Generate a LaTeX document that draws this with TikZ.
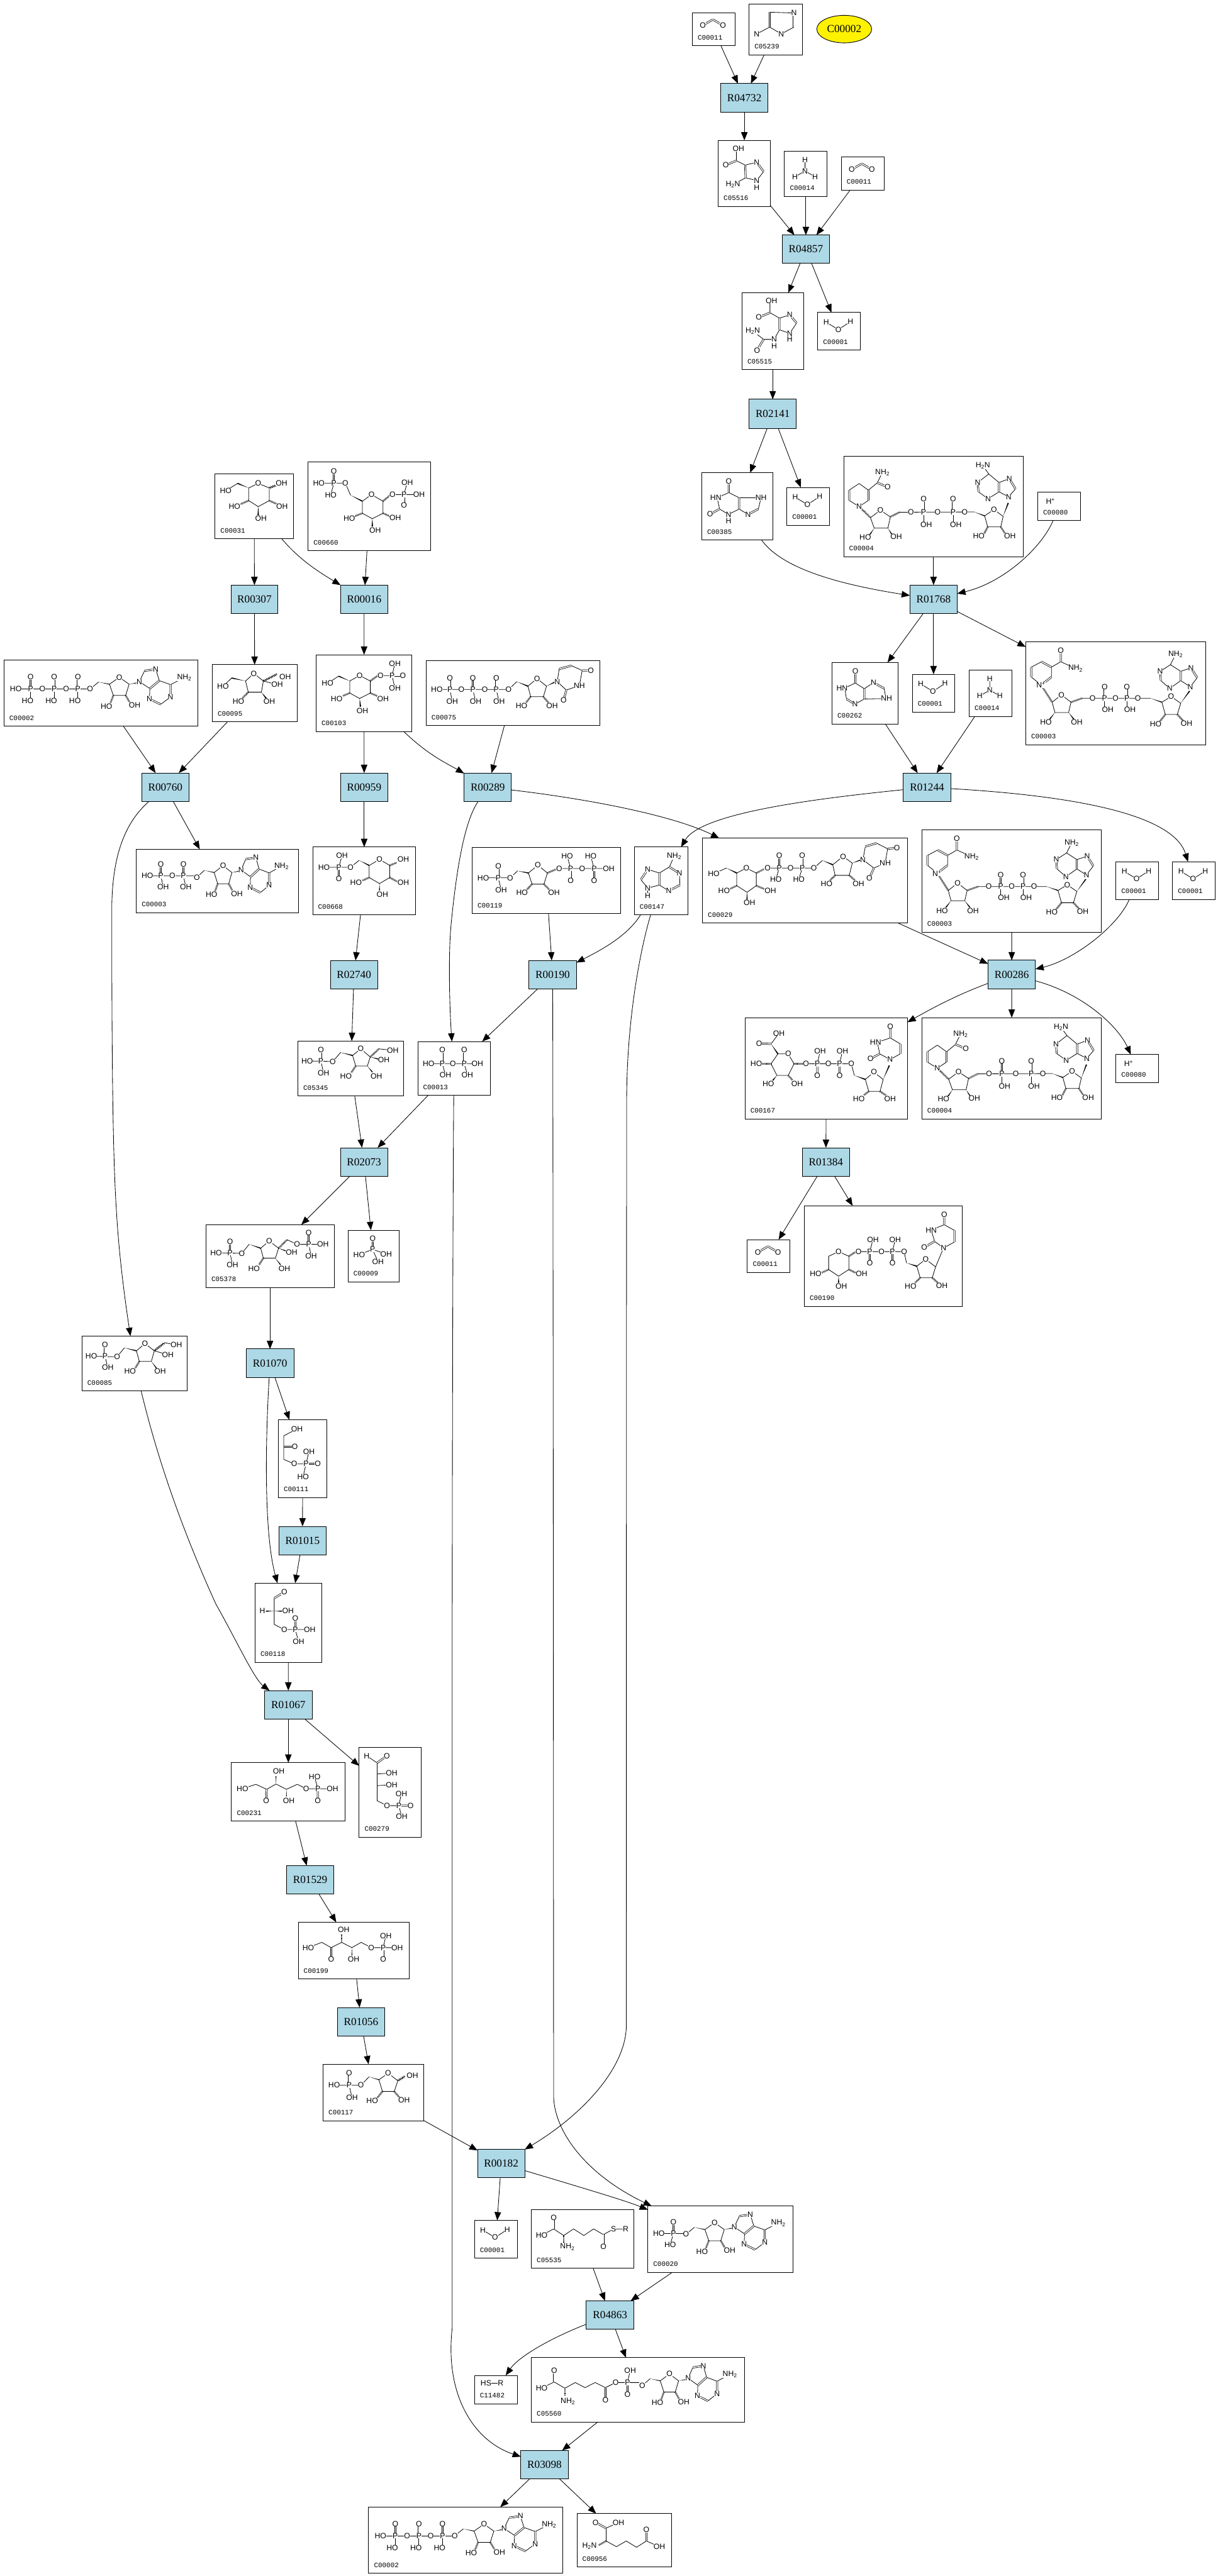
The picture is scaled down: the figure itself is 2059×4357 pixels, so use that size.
\documentclass[tikz,border=0pt]{standalone}
\usepackage{fontspec}
\setmainfont{Liberation Sans}
\newfontfamily\rfont{Liberation Serif}
\newfontfamily\lfont{Liberation Mono}
\usetikzlibrary{arrows.meta,calc,shapes.geometric,decorations.pathmorphing}
\newcount\atomctr
\tikzset{
 cmp/.style={draw=black,fill=white,line width=1pt,rectangle,inner sep=0pt,outer sep=0pt},
 rxn/.style={draw=black,fill=rbg,line width=1pt,rectangle,inner sep=0pt,outer sep=0pt,font=\rfont\fontsize{18.3}{18.3}\selectfont},
 lbl/.style={inner sep=0pt,font=\lfont\fontsize{11.6}{11.6}\selectfont},
 atm/.style={/utils/exec={\global\advance\atomctr by 1},name=atom\the\atomctr,fill=white,inner sep=0pt,font=\fontsize{13}{13}\selectfont},
 bd/.style={line width=.85pt,line cap=round,line join=round},
 dbd/.style={double,double distance=1.6pt,line width=.8pt},
 hs/.style={line width=3pt,dash pattern=on .8pt off 1.1pt},
 wv/.style={line width=.8pt,decorate,decoration={zigzag,amplitude=1.5pt,segment length=3pt}},
 edge/.style={line width=.9pt,-{Triangle[length=14pt,width=11pt]}}
}
\definecolor{rbg}{HTML}{ADD8E6}
\newcommand\NHt{NH\textsubscript{2}}
\newcommand\HtN{H\textsubscript{2}N}
\newcommand\AT[1]{\foreach \vA/\vB/\vC in {#1}{\node[atm] at (\vA,\vB) {\vC};}}
\newcommand\pL[1]{\draw[bd] #1;}
\newcommand\dL[1]{\draw[dbd] #1;}
\newcommand\wD[4]{\fill (#1,#2) -- ($(#3,#4)!1.9pt!90:(#1,#2)$) -- ($(#3,#4)!1.9pt!-90:(#1,#2)$) -- cycle;}
\newcommand\hS[4]{\draw[hs] (#1,#2) -- (#3,#4);}
\newcommand\wV[4]{\draw[wv] (#1,#2) -- (#3,#4);}
\newcommand\mol[6]{\begin{scope}[shift={(#1.north west)},xscale={1/#2},yscale={1/#3},shift={(-#4,-#5)}]#6\end{scope}}
\newcommand\cbox[6]{\node[cmp,minimum width={(#4-#2)*1pt},minimum height={(#5-#3)*1pt}] (#1) at ({(#2+#4)/2},{(#3+#5)/2}) {};
 \node[lbl,anchor=west] (#1l) at ({#2+9},{#5-14}) {#6};}
\newcommand\rbox[5]{\node[rxn,minimum width={(#4-#2)*1pt},minimum height={(#5-#3)*1pt}] (#1) at ({(#2+#4)/2},{(#3+#5)/2}) {#1};}
\newcommand\eD[2]{\draw[edge] (#1) -- (#2);}
% ---- molecules, written in the coordinates of a crop of the picture
\newcommand\mWater{\pL{(665,1187)--(711,1214)--(757,1185)}\AT{665/1187/H,711/1214/O,757/1185/H}}
\newcommand\mCO{\dL{(198,93)--(236,72) (236,72)--(274,93)}\AT{198/93/O,274/93/O}}
\newcommand\mNH{\pL{(585,588)--(585,630)--(547,651) (585,630)--(623,651)}\AT{585/630/N,585/588/H,547/651/H,623/651/H}}
\newcommand\mHp{\AT{1080/308/H\textsuperscript{+}}}
\newcommand\mAIR{\pL{(451,45)--(543,48) (543,100)--(495,125)--(451,100)--(402,125)}\dL{(543,48)--(543,100) (451,100)--(451,45)}\AT{543/48/N,495/125/N,402/125/N}}
\newcommand\mAIRc{\pL{(325,592)--(325,548) (325,592)--(358,608)--(402,598) (428,632)--(402,665)--(360,655)--(312,680)}\dL{(325,592)--(285,608) (358,608)--(360,655) (402,598)--(428,632)}\AT{333/548/OH,285/608/O,402/598/N,402/665/N,402/690/H,312/680/\HtN}}
\newcommand\mSAIC{\pL{(452,1152)--(452,1107) (452,1152)--(488,1172)--(527,1160) (553,1190)--(527,1228)--(488,1215)--(468,1250)--(428,1250)--(387,1220)}\dL{(452,1152)--(410,1169) (488,1172)--(488,1215) (527,1160)--(553,1190) (428,1250)--(403,1290)}\AT{458/1107/OH,410/1169/O,527/1160/N,527/1228/N,527/1250/H,468/1250/N,468/1275/H,403/1290/O,387/1220/\HtN}}
\newcommand\mXan{\pL{(142,273)--(108,294)--(115,340)--(141,362)--(172,340)--(172,294)--(142,273) (172,294)--(236,294) (228,340)--(198,362)--(172,340) (236,294)--(228,340)}\dL{(142,273)--(142,227) (115,340)--(87,361) (172,340)--(172,294) (228,340)--(198,362)}\AT{142/227/O,104/294/HN,87/361/O,141/362/N,141/388/H,198/362/N,236/294/NH}}
\newcommand\mHyp{\pL{(511,1050)--(480,1070)--(485,1115)--(510,1136)--(537,1115)--(537,1073)--(511,1050) (537,1073)--(564,1048)--(595,1072)--(600,1113)--(537,1115)}\dL{(511,1050)--(511,1002) (485,1115)--(510,1136) (537,1115)--(537,1073) (564,1048)--(595,1072)}\AT{511/1002/O,472/1070/HN,510/1136/N,564/1048/N,602/1113/NH}}
\newcommand\mNADH{\pL{(493,263)--(522,236)--(549,263)--(549,305)--(522,330)--(493,305)--cycle (549,263)--(575,233)--(590,190)}
 \dL{(493,263)--(493,305) (549,263)--(549,305) (575,233)--(605,250)}
 \hS{522}{330}{555}{375}
 \pL{(555,375)--(584,345)--(613,372)--(606,418)--(566,418)--cycle (640,353)--(858,352)}
 \hS{613}{372}{640}{353}\wD{566}{418}{553}{445}\wD{606}{418}{618}{445}
 \pL{(710,353)--(710,405) (796,353)--(796,405)}\dL{(710,353)--(710,300) (796,353)--(796,300)}
 \wD{858}{352}{888}{368}
 \pL{(888,368)--(915,342)--(942,370)--(935,413)--(897,413)--cycle}
 \hS{897}{413}{885}{445}\hS{935}{413}{950}{445}\wD{942}{370}{957}{315}
 \pL{(883,163)--(900,197)--(868,232)--(870,270)--(898,298)--(930,270)--(930,232)--(900,197) (930,232)--(960,216)--(978,258)--(958,290)--(930,270)}
 \dL{(930,270)--(930,232) (960,216)--(978,258) (868,232)--(870,270)}
 \AT{590/190/\NHt,605/250/O,522/330/N,883/163/\HtN,868/232/N,898/298/N,960/216/N,958/290/N,584/345/O,673/353/O,710/353/P,710/300/O,718/403/OH,751/353/O,796/353/P,796/300/O,804/405/OH,830/353/O,915/342/O,540/455/HO,630/452/OH,871/450/HO,962/450/OH}}
\newcommand\mNAD{\pL{(1024,985)--(1054,963)--(1083,985)--(1083,1025)--(1053,1058)--(1024,1025)--cycle (1083,985)--(1110,963)--(1153,990)}
 \dL{(1024,985)--(1024,1025) (1054,963)--(1083,985) (1083,1025)--(1053,1058) (1110,963)--(1110,917)}
 \hS{1053}{1058}{1085}{1128}
 \pL{(1085,1128)--(1112,1098)--(1140,1128)--(1133,1170)--(1093,1170)--cycle (1172,1112)--(1372,1112)}
 \wD{1093}{1170}{1078}{1197}\wD{1133}{1170}{1148}{1197}\hS{1140}{1128}{1172}{1112}
 \pL{(1238,1112)--(1238,1155) (1303,1112)--(1303,1155)}\dL{(1238,1112)--(1238,1065) (1303,1112)--(1303,1065)}
 \wD{1372}{1112}{1405}{1128}
 \pL{(1405,1128)--(1432,1105)--(1460,1132)--(1450,1178)--(1415,1178)--cycle}
 \hS{1415}{1178}{1400}{1205}\hS{1450}{1178}{1468}{1205}\wD{1460}{1132}{1486}{1082}
 \pL{(1445,933)--(1430,975)--(1400,1002)--(1402,1040)--(1428,1072)--(1460,1040)--(1460,1002)--(1430,975) (1460,1002)--(1490,988)--(1508,1028)--(1488,1065)--(1460,1040)}
 \dL{(1460,1040)--(1460,1002) (1490,988)--(1508,1028) (1400,1002)--(1402,1040)}
 \AT{1052/1058/N\textsuperscript{+},1110/917/O,1153/990/\NHt,1112/1098/O,1067/1210/HO,1157/1210/OH,1203/1112/O,1238/1112/P,1270/1112/O,1303/1112/P,1335/1112/O,1238/1065/O,1303/1065/O,1247/1158/OH,1312/1158/OH,1432/1105/O,1387/1216/HO,1477/1214/OH,1488/1065/N,1445/933/\NHt,1400/1002/N,1428/1072/N,1490/988/N}}
\newcommand\mAR{\pL{(507,207)--(550,172)}\wD{550}{172}{605}{183}
 \pL{(605,183)--(655,148)--(705,183)--(687,240)--(625,240)--cycle}
 \wD{705}{183}{745}{176}\hS{625}{240}{610}{278}\hS{687}{240}{708}{275}
 \pL{(757,170)--(783,115)--(840,107)--(858,165)--(810,205)--(757,170) (810,205)--(808,258)--(865,285)--(915,248)--(915,185)--(858,165) (915,185)--(985,150)}
 \dL{(783,115)--(840,107) (858,165)--(810,205) (808,258)--(865,285) (915,248)--(915,185)}
 \AT{507/207/O,655/148/O,757/170/N,840/107/N,808/258/N,915/248/N,985/150/\NHt,590/295/HO,733/290/OH}}
\newcommand\AR[6]{\begin{scope}[shift={(#1.north west)},shift={(#2,#3)},xscale={#4/3},yscale={#5/3},shift={(-655,-148)}]#6\end{scope}}
\newcommand\mATP{\pL{(130,207)--(507,207) (205,207)--(205,255) (325,207)--(325,255) (445,207)--(445,255)}\dL{(205,207)--(205,146) (325,207)--(325,146) (445,207)--(445,146)}\mAR
 \AT{130/207/HO,205/207/P,265/207/O,325/207/P,385/207/O,445/207/P,205/146/O,325/146/O,445/146/O,190/267/HO,310/267/HO,430/267/HO}}
\newcommand\mGlc{\pL{(628,128)--(652,113)--(680,128)--(680,170)--(652,190)--(628,170)--cycle (600,113)--(570,137)}
 \wD{628}{128}{600}{113}\wV{680}{128}{700}{118}\hS{628}{170}{607}{182}\hS{680}{170}{700}{182}\wD{652}{190}{652}{218}
 \AT{570/137/HO,711/113/OH,592/189/HO,712/190/OH,659/229/OH,652/113/O}}
\newcommand\mGSP{\pL{(805,112)--(872,112)--(885,152) (843,112)--(835,151) (991,150)--(1058,150) (1020,150)--(1028,110)}\dL{(843,112)--(843,73) (1020,150)--(1020,186)}
 \wD{885}{152}{915}{172}\pL{(915,172)--(938,150)--(967,172)--(967,212)--(940,230)--(915,212)--cycle}
 \hS{967}{172}{985}{152}\hS{915}{212}{895}{222}\hS{967}{212}{985}{222}\wD{940}{230}{940}{256}
 \AT{843/73/O,843/112/P,805/112/HO,872/112/O,835/151/HO,938/150/O,991/150/O,1020/150/P,1058/150/OH,1028/110/OH,1020/186/O,882/228/HO,998/226/OH,947/268/OH}}
\newcommand\mFru{\pL{(620,768)--(641,743)--(665,768)--(660,805)--(627,805)--cycle (585,758)--(563,786) (665,768)--(700,780)}
 \wD{620}{768}{585}{758}\wV{665}{768}{700}{745}\hS{627}{805}{612}{825}\wD{660}{805}{672}{825}
 \AT{641/743/O,563/786/HO,720/755/OH,700/780/OH,602/835/HO,680/835/OH}}
\newcommand\mGoneP{\pL{(855,752)--(827,776) (883,768)--(908,750)--(935,768)--(935,808)--(908,826)--(883,808)--cycle (961,750)--(990,750) (997,710)--(990,750)--(997,792)}\dL{(990,750)--(1017,750)}
 \wD{883}{768}{855}{752}\hS{935}{768}{952}{752}\hS{883}{808}{865}{818}\hS{935}{808}{953}{818}\wD{908}{826}{910}{853}
 \AT{827/776/HO,908/750/O,961/750/O,990/750/P,1017/750/O,997/710/OH,997/792/OH,850/827/HO,967/827/OH,915/866/OH}}
\newcommand\mUTP{\pL{(1103,796)--(1284,796)--(1305,770) (1136,796)--(1142,836) (1194,796)--(1201,836) (1253,796)--(1260,836)}\dL{(1136,796)--(1136,758) (1194,796)--(1194,758) (1253,796)--(1253,758)}
 \wD{1305}{770}{1333}{785}\pL{(1333,785)--(1356,760)--(1380,785)--(1372,820)--(1340,820)--cycle}
 \hS{1340}{820}{1328}{840}\hS{1372}{820}{1385}{840}\wD{1380}{785}{1403}{770}
 \pL{(1407,770)--(1412,728)--(1443,717)--(1470,733)--(1463,783)--(1430,798)--(1407,770)}\dL{(1412,728)--(1443,717) (1470,733)--(1492,733) (1430,798)--(1423,832)}
 \AT{1103/796/HO,1136/796/P,1165/796/O,1194/796/P,1224/796/O,1253/796/P,1284/796/O,1136/758/O,1194/758/O,1253/758/O,1142/836/OH,1201/836/OH,1260/836/OH,1356/760/O,1317/850/HO,1394/850/OH,1407/770/N,1492/733/O,1463/783/NH,1423/832/O}}
\newcommand\mADPp{\pL{(372,1414)--(491,1414) (406,1414)--(412,1450) (463,1414)--(469,1450)}\dL{(406,1414)--(406,1376) (463,1414)--(463,1376)}\AT{372/1414/HO,406/1414/P,435/1414/O,463/1414/P,406/1376/O,463/1376/O,412/1450/OH,469/1450/OH}}
\newcommand\mGsixP{\pL{(152,131)--(252,131)--(285,108) (208,131)--(220,92)}\dL{(208,131)--(208,169)}\wD{285}{108}{323}{125}
 \pL{(323,125)--(362,105)--(401,125)--(401,165)--(362,185)--(323,165)--cycle}
 \hS{401}{125}{428}{115}\hS{323}{165}{297}{175}\hS{401}{165}{428}{178}\wD{362}{185}{362}{208}
 \AT{220/92/OH,152/131/HO,208/131/P,252/131/O,208/169/O,362/105/O,452/105/OH,273/182/HO,452/182/OH,373/221/OH}}
\newcommand\mPRPP{\pL{(755,166)--(857,166)--(885,143) (812,166)--(823,206) (1043,135)--(1230,135) (1086,135)--(1073,94) (1175,135)--(1162,94)}\dL{(812,166)--(812,128) (1086,135)--(1086,175) (1175,135)--(1175,175)}
 \wD{885}{143}{926}{150}\pL{(926,150)--(962,124)--(998,150)--(985,187)--(940,187)--cycle}
 \hS{998}{150}{1030}{138}\hS{940}{187}{920}{205}\hS{985}{187}{1005}{205}
 \AT{812/128/O,812/166/P,755/166/HO,857/166/O,823/206/OH,962/124/O,1043/135/O,1086/135/P,1130/135/O,1175/135/P,1230/135/OH,1073/94/HO,1162/94/HO,1086/175/O,1175/175/O,902/215/HO,1023/215/OH}}
\newcommand\mAde{\pL{(1478,94)--(1460,130)--(1498,151)--(1500,190)--(1458,209)--(1422,190)--(1422,150)--(1460,130) (1422,150)--(1378,138)--(1352,172)--(1378,200)--(1422,190) (1378,200)--(1378,225)}
 \dL{(1460,130)--(1498,151) (1500,190)--(1458,209) (1422,190)--(1422,150) (1378,138)--(1352,172)}
 \AT{1478/94/\NHt,1498/151/N,1458/209/N,1378/138/N,1378/200/N,1378/225/H}}
\newcommand\mUDPG{\pL{(98,192)--(135,175) (165,190)--(193,175)--(222,190)--(222,228)--(195,248)--(165,228)--cycle (255,175)--(390,175)--(415,152) (289,175)--(279,209) (356,175)--(346,209)}\dL{(289,175)--(289,138) (356,175)--(356,138)}
 \wD{135}{175}{165}{190}\hS{222}{190}{245}{178}\hS{165}{228}{145}{238}\hS{222}{228}{245}{238}\wD{195}{248}{195}{270}
 \wD{415}{152}{445}{165}\pL{(445,165)--(475,140)--(502,160)--(493,197)--(452,197)--cycle}
 \hS{452}{197}{437}{212}\hS{493}{197}{510}{212}\wD{502}{160}{528}{150}
 \pL{(533,150)--(540,110)--(573,100)--(605,117)--(598,160)--(565,175)--cycle}\dL{(540,110)--(573,100) (605,117)--(632,114) (565,175)--(552,205)}
 \AT{98/192/HO,193/175/O,255/175/O,289/175/P,322/175/O,356/175/P,390/175/O,289/138/O,356/138/O,279/209/HO,346/209/HO,475/140/O,427/222/HO,520/222/OH,533/150/N,632/114/O,598/160/NH,552/205/O,128/244/HO,263/244/OH,202/280/OH}}
\newcommand\mUDPA{\pL{(285,735)--(315,735)--(332,765)--(315,800)--(282,800)--(265,765)--cycle (265,705)--(288,673) (367,765)--(499,765)--(508,800) (400,765)--(408,727) (465,765)--(473,727)}\dL{(265,705)--(230,704) (400,765)--(400,800) (465,765)--(465,800)}
 \wD{265}{705}{285}{735}\hS{332}{765}{357}{765}\hS{265}{765}{240}{765}\wD{282}{800}{270}{815}\hS{315}{800}{328}{815}
 \wD{508}{800}{540}{812}\pL{(540,812)--(565,790)--(592,812)--(583,848)--(550,848)--cycle}
 \hS{550}{848}{535}{860}\hS{583}{848}{600}{860}\wD{592}{812}{610}{770}
 \pL{(613,687)--(575,700)--(582,735)--(612,752)--(642,735)--(642,705)--(613,687)}\dL{(613,687)--(613,652) (582,735)--(555,750) (642,735)--(642,705)}
 \AT{288/673/OH,230/704/O,315/735/O,367/765/O,400/765/P,432/765/O,465/765/P,499/765/O,408/727/OH,473/727/OH,400/800/O,465/800/O,222/765/HO,257/825/HO,341/825/OH,565/790/O,521/870/HO,612/870/OH,612/752/N,613/652/O,570/700/HN,555/750/O}}
\newcommand\mUDPX{\pL{(433,1345)--(462,1331)--(492,1345)--(492,1385)--(462,1405)--(433,1385)--cycle (520,1331)--(653,1331)--(660,1365) (553,1331)--(562,1295) (619,1331)--(627,1295)}\dL{(553,1331)--(553,1366) (619,1331)--(619,1366)}
 \hS{492}{1345}{510}{1333}\hS{433}{1385}{412}{1395}\hS{492}{1385}{512}{1395}\wD{462}{1405}{462}{1425}
 \wD{660}{1365}{690}{1375}\pL{(690,1375)--(716,1354)--(745,1377)--(735,1410)--(700,1410)--cycle (745,1377)--(768,1320)}
 \hS{700}{1410}{685}{1425}\hS{735}{1410}{752}{1425}
 \pL{(768,1320)--(800,1302)--(800,1267)--(770,1250)--(732,1266)--(742,1300)--cycle}\dL{(800,1302)--(800,1267) (770,1250)--(770,1220) (742,1300)--(712,1318)}
 \AT{462/1331/O,520/1331/O,553/1331/P,587/1331/O,619/1331/P,653/1331/O,562/1295/OH,627/1295/OH,553/1366/O,619/1366/O,395/1398/HO,529/1398/OH,470/1436/OH,716/1354/O,672/1436/HO,763/1434/OH,768/1320/N,770/1220/O,732/1266/HN,712/1318/O}}
\newcommand\mFsixP{\pL{(88,773)--(185,775)--(215,745) (140,773)--(150,813) (360,733)--(412,738)}\dL{(140,773)--(140,737)}
 \wD{215}{745}{260}{755}\pL{(260,755)--(291,733)--(327,760)--(316,790)--(272,790)--cycle}
 \hS{327}{760}{360}{733}\wD{327}{760}{358}{767}\hS{272}{790}{255}{812}\wD{316}{790}{335}{810}
 \AT{140/737/O,140/773/P,88/773/HO,185/775/O,150/813/OH,291/733/O,412/738/OH,378/769/OH,235/824/HO,350/824/OH}}
\newcommand\mPPi{\pL{(548,782)--(733,782) (600,782)--(612,819) (683,782)--(695,819)}\dL{(600,782)--(600,737) (683,782)--(683,737)}\AT{600/737/O,600/782/P,548/782/HO,640/782/O,683/782/P,733/782/OH,683/737/O,612/819/OH,695/819/OH}}
\newcommand\mPi{\pL{(285,1415)--(336,1398)--(387,1413) (336,1398)--(356,1438)}\dL{(336,1398)--(336,1362)}\AT{336/1362/O,336/1398/P,285/1415/HO,387/1413/OH,356/1438/OH}}
\newcommand\mFBP{\pL{(640,135)--(745,137)--(775,107) (697,135)--(707,176) (930,92)--(970,107)--(1076,107) (1018,107)--(1028,146)}\dL{(697,135)--(697,99) (1018,107)--(1018,68)}
 \wD{775}{107}{822}{120}\pL{(822,120)--(857,96)--(895,120)--(882,153)--(833,153)--cycle}
 \hS{895}{120}{930}{92}\wD{895}{120}{928}{130}\hS{833}{153}{815}{175}\wD{882}{153}{903}{175}
 \AT{697/99/O,697/135/P,640/135/HO,745/137/O,707/176/OH,857/96/O,970/107/O,1018/107/P,1076/107/OH,1018/68/O,1028/146/OH,948/133/OH,795/187/HO,919/187/OH}}
\newcommand\mFsP{\pL{(131,478)--(236,480)--(266,450) (187,478)--(198,516) (430,433)--(478,441) (388,460)--(443,473)}\dL{(187,478)--(187,441)}
 \wD{266}{450}{315}{460}\pL{(315,460)--(350,436)--(388,460)--(376,495)--(327,495)--cycle}
 \wV{388}{460}{430}{433}\hS{327}{495}{310}{518}\wD{376}{495}{397}{518}
 \AT{187/441/O,187/478/P,131/478/HO,236/480/O,198/516/OH,350/436/O,478/441/OH,443/473/OH,289/528/HO,412/528/OH}}
\newcommand\mDHAP{\pL{(970,719)--(916,742)--(916,820)--(959,835)--(1007,835) (1019,794)--(1007,835)--(995,877)}\dL{(916,778)--(961,778) (1007,835)--(1055,835)}\AT{970/719/OH,961/778/O,959/835/O,1007/835/P,1055/835/O,1019/794/OH,995/877/HO}}
\newcommand\mGAP{\pL{(877,1280)--(877,1367)--(918,1384)--(1022,1384) (963,1384)--(976,1423)}\dL{(877,1280)--(918,1260) (963,1384)--(963,1347)}\wD{877}{1323}{843}{1323}\wD{877}{1323}{908}{1323}\AT{918/1260/O,829/1321/H,933/1321/OH,963/1347/O,963/1384/P,918/1384/O,1022/1384/OH,976/1423/OH}}
\newcommand\mRuP{\pL{(180,393)--(248,376)--(303,395)--(350,375)--(403,395)--(458,376)--(503,393)--(637,393) (562,393)--(546,347)}\dL{(303,395)--(300,438) (562,393)--(562,438)}\wD{350}{375}{350}{345}\wD{403}{395}{403}{422}\AT{180/393/HO,300/438/O,364/326/OH,415/438/OH,503/393/O,562/393/P,637/393/OH,546/347/HO,562/438/O}}
\newcommand\mEP{\pL{(810,268)--(863,295)--(863,438)--(913,457)--(973,457) (863,337)--(937,333) (863,381)--(937,378) (986,411)--(973,457)--(988,499)}\dL{(863,295)--(912,268) (973,457)--(1033,457)}\AT{810/268/H,912/268/O,937/333/OH,937/378/OH,913/457/O,973/457/P,1033/457/O,986/411/OH,988/499/OH}}
\newcommand\mXuP{\pL{(514,995)--(582,975)--(630,995)--(683,975)--(735,995)--(782,975)--(833,995)--(965,995) (894,995)--(907,950)}\dL{(630,995)--(630,1040) (894,995)--(894,1040)}\hS{683}{975}{683}{945}\wD{735}{995}{735}{1025}\AT{514/995/HO,630/1040/O,693/928/OH,744/1040/OH,833/995/O,894/995/P,965/995/OH,907/950/OH,894/1040/O}}
\newcommand\mRfP{\pL{(135,201)--(271,201)--(312,158) (211,201)--(226,264)}\dL{(211,201)--(211,138)}\wD{312}{158}{362}{173}\pL{(362,173)--(409,140)--(458,178)--(440,232)--(380,232)--cycle}
 \wV{458}{178}{495}{155}\hS{380}{232}{350}{270}\hS{440}{232}{470}{268}
 \AT{211/138/O,211/201/P,135/201/HO,271/201/O,226/264/OH,409/140/O,532/153/OH,328/280/HO,490/275/OH}}
\newcommand\mAMPp{\pL{(878,368)--(985,368) (937,368)--(924,408)}\dL{(937,368)--(937,328)}\AT{937/368/P,878/368/HO,937/328/O,924/408/HO}}
\newcommand\mAPs{\pL{(400,374)--(449,352)--(490,375)--(530,352)--(572,375)--(612,352)--(652,372)--(693,352)--(743,352)}\dL{(449,352)--(449,312) (652,372)--(652,413)}\hS{490}{375}{490}{400}\AT{449/312/O,400/374/HO,505/415/\NHt,652/413/O,693/352/S,743/352/R}}
\newcommand\mHSR{\pL{(173,893)--(233,893)}\AT{173/893/HS,233/893/R}}
\newcommand\mAPa{\pL{(400,910)--(451,888)--(495,910)--(537,890)--(577,908)--(618,890)--(660,908)--(702,890)--(797,890) (750,890)--(761,848)}\dL{(451,888)--(451,848) (660,908)--(660,952) (750,890)--(750,932)}\hS{495}{910}{495}{935}\AT{451/848/O,400/910/HO,507/955/\NHt,660/952/O,702/890/O,750/890/P,761/848/OH,750/932/O}}
\newcommand\mAAA{\pL{(663,1400)--(713,1380) (663,1400)--(663,1445)--(705,1465)--(745,1445)--(787,1467)--(827,1445)--(880,1465)}\dL{(663,1400)--(620,1380) (827,1445)--(827,1405)}\hS{663}{1445}{632}{1460}\AT{620/1380/O,713/1380/OH,595/1462/\HtN,827/1405/O,880/1465/OH}}
\begin{document}
\begin{tikzpicture}[x=1pt,y=-1pt]
\fill[white] (0,0) rectangle (2059,4357);
\useasboundingbox (0,0) rectangle (2059,4357);
% reactions
\rbox{R04732}{1218.3}{141.4}{1298.7}{189.6}
\rbox{R04857}{1322.3}{397.6}{1402.7}{445.4}
\rbox{R02141}{1266.5}{675.4}{1346.5}{724.6}
\rbox{R01768}{1538.4}{989.5}{1618.4}{1037.6}
\rbox{R01244}{1527.4}{1307.5}{1607.4}{1355.6}
\rbox{R00307}{390.4}{989.6}{470}{1037.6}
\rbox{R00016}{575.9}{989.6}{655.6}{1037.6}
\rbox{R00760}{239.7}{1307.4}{319.4}{1355.4}
\rbox{R00959}{575.9}{1307.4}{655.6}{1355.4}
\rbox{R00289}{784.8}{1307.4}{864.5}{1355.4}
\rbox{R00286}{1670.6}{1624.2}{1750.6}{1672.5}
\rbox{R01384}{1356.4}{1941.3}{1436.4}{1989.5}
\rbox{R02740}{558.6}{1624.5}{638.5}{1672.4}
\rbox{R00190}{894.3}{1624.5}{974.6}{1672.4}
\rbox{R02073}{575.5}{1941.3}{655.4}{1989.3}
\rbox{R01070}{416.3}{2281.6}{496.8}{2329.6}
\rbox{R01015}{471.5}{2581.6}{551.5}{2629.6}
\rbox{R01067}{447.3}{2859.4}{527.7}{2907.6}
\rbox{R01529}{484.3}{3155.4}{564.7}{3203.6}
\rbox{R01056}{570.3}{3395.5}{650.7}{3443.8}
\rbox{R00182}{807.6}{3635.2}{887.2}{3683.5}
\rbox{R04863}{991.3}{3891.6}{1071.7}{3939.4}
\rbox{R03098}{880.6}{4144.7}{960.6}{4192.5}
% compounds
\node[draw=black,fill=yellow,ellipse,line width=1pt,inner sep=0pt,outer sep=0pt,minimum width=92.7pt,minimum height=46.5pt,font=\rfont\fontsize{18.3}{18.3}\selectfont] (Cseed) at (1427.4,49.2) {C00002};
\cbox{Ca}{1170.5}{21.6}{1242.4}{77.6}{C00011}
\cbox{Cb}{1266.5}{7.3}{1356.7}{92.7}{C05239}
\cbox{Cc}{1214.3}{237.4}{1302.7}{349.4}{C05516}
\cbox{Cd}{1326.3}{255.3}{1398.7}{332.4}{C00014}
\cbox{Ce}{1422.3}{265.4}{1494.6}{321.4}{C00011}
\cbox{Cf}{1254.5}{495.4}{1358.5}{625.3}{C05515}
\cbox{Cg}{1382.6}{528.5}{1454.5}{592.2}{C00001}
\cbox{Ch}{1186.5}{799.6}{1306.5}{913.6}{C00385}
\cbox{Ci}{1330.3}{824.5}{1402.2}{888.7}{C00001}
\cbox{Cj}{1426.5}{771.4}{1730.3}{941.4}{C00004}
\cbox{Ck}{1754.6}{832.4}{1826.5}{880.4}{C00080}
\cbox{Cl}{1406.8}{1120.5}{1518.7}{1224.6}{C00262}
\cbox{Cm}{1542.5}{1140.4}{1614.3}{1204.7}{C00001}
\cbox{Cn}{1638.7}{1133.3}{1710.6}{1211.7}{C00014}
\cbox{Co}{1734.3}{1085.3}{2038.7}{1259.4}{C00003}
\cbox{Cp}{363.6}{801.3}{496.2}{911.5}{C00031}
\cbox{Cq}{521}{781.4}{728.6}{931.4}{C00660}
\cbox{Cr}{6.7}{1116.6}{334.2}{1228.4}{C00002}
\cbox{Cs}{358.9}{1124.3}{502.2}{1220.7}{C00095}
\cbox{Ct}{534.4}{1107.4}{696.4}{1237.6}{C00103}
\cbox{Cu}{720.5}{1117.7}{1014.5}{1227.3}{C00075}
\cbox{Cv}{230.4}{1436.5}{504.2}{1543.7}{C00003}
\cbox{Cw}{528.7}{1432.7}{702.8}{1547.4}{C00668}
\cbox{Cx}{798.3}{1433.7}{1048.8}{1545.4}{C00119}
\cbox{Cy}{1072.4}{1432.7}{1163.5}{1547.4}{C00147}
\cbox{Cz}{1187.7}{1417.7}{1534.3}{1561.4}{C00029}
\cbox{Daa}{1558.7}{1403.7}{1862.5}{1576.5}{C00003}
\cbox{Dab}{1886.8}{1457.5}{1958.7}{1521.5}{C00001}
\cbox{Dac}{1982.5}{1457.5}{2054.3}{1521.5}{C00001}
\cbox{Dad}{1259.6}{1721.3}{1534.3}{1892.4}{C00167}
\cbox{Dae}{1558.7}{1721.3}{1862.5}{1892.4}{C00004}
\cbox{Daf}{1886.8}{1783.6}{1958.7}{1831.3}{C00080}
\cbox{Dag}{1263.6}{2096.7}{1335.5}{2152.3}{C00011}
\cbox{Dah}{1359.9}{2039.5}{1626.5}{2209.5}{C00190}
\cbox{Dai}{503.7}{1760.7}{682.7}{1853.6}{C05345}
\cbox{Daj}{706.3}{1761.7}{828.7}{1852.6}{C00013}
\cbox{Dak}{588.5}{2080.6}{674.6}{2168.4}{C00009}
\cbox{Dal}{348.3}{2071.4}{564.8}{2177.6}{C05378}
\cbox{Dam}{138.6}{2259.7}{316.4}{2352.6}{C00085}
\cbox{Dan}{470.6}{2401.5}{552.7}{2532.7}{C00111}
\cbox{Dao}{431.3}{2677.6}{543.6}{2811.7}{C00118}
\cbox{Dap}{391.3}{2981.3}{583.7}{3080.4}{C00231}
\cbox{Daq}{607.3}{2955.4}{711.7}{3107.6}{C00279}
\cbox{Dar}{504.3}{3251.3}{691.7}{3347.3}{C00199}
\cbox{Das}{546.3}{3491.3}{716.7}{3587.3}{C00117}
\cbox{Dat}{802.2}{3755.5}{874.8}{3819.7}{C00001}
\cbox{Dau}{898.4}{3737.6}{1071.7}{3836.6}{C05535}
\cbox{Dav}{1095.4}{3731.3}{1340.8}{3843.4}{C00020}
\cbox{Daw}{802.2}{4017.7}{874.8}{4065.5}{C11482}
\cbox{Dax}{898.4}{3987.7}{1258.7}{4096.4}{C05560}
\cbox{Day}{623.3}{4240.3}{951.7}{4352.3}{C00002}
\cbox{Daz}{975.5}{4251.4}{1135.6}{4341.7}{C00956}
% structures
\mol{Ca}{2.24}{2.178}{158}{47}{\mCO}
\mol{Ce}{2.24}{2.178}{158}{47}{\mCO}
\mol{Dag}{2.24}{2.178}{158}{47}{\mCO}
\mol{Cb}{2.24}{2.178}{373}{16}{\mAIR}
\mol{Cc}{2.24}{2.178}{256}{517}{\mAIRc}
\mol{Cd}{2.24}{2.178}{507}{556}{\mNH}
\mol{Cn}{2.24}{2.178}{507}{556}{\mNH}
\mol{Cf}{2.24}{2.178}{346}{1079}{\mSAIC}
\mol{Cg}{2.24}{2.178}{633}{1151}{\mWater}
\mol{Ci}{2.24}{2.178}{633}{1151}{\mWater}
\mol{Cm}{2.24}{2.178}{633}{1151}{\mWater}
\mol{Dab}{2.24}{2.178}{633}{1151}{\mWater}
\mol{Dac}{2.24}{2.178}{633}{1151}{\mWater}
\mol{Dat}{2.24}{2.178}{633}{1151}{\mWater}
\mol{Ch}{1.725}{2.412}{63}{192}{\mXan}
\mol{Cj}{1.725}{2.412}{477}{124}{\mNADH}
\mol{Dae}{1.725}{2.412}{477}{124}{\mNADH}
\mol{Ck}{1.725}{2.412}{1043}{271}{\mHp}
\mol{Daf}{1.725}{2.412}{1043}{271}{\mHp}
\mol{Cl}{1.725}{2.412}{443}{966}{\mHyp}
\mol{Co}{1.725}{2.412}{1008}{881}{\mNAD}
\mol{Daa}{1.725}{2.412}{1008}{881}{\mNAD}
\mol{Cp}{1.4933}{1.96}{543}{81}{\mGlc}
\mol{Cq}{1.4933}{1.96}{778}{42}{\mGSP}
\mol{Cr}{3}{3}{70}{61}{\mATP}
\mol{Day}{3}{3}{70}{61}{\mATP}
\mol{Cs}{1.4933}{1.96}{536}{714}{\mFru}
\mol{Ct}{1.4933}{1.96}{798}{681}{\mGoneP}
\mol{Cu}{1.4933}{1.96}{1076}{701}{\mUTP}
\mol{Cv}{1.4933}{1.96}{344}{1326}{\mADPp}
\AR{Cv}{146.7}{27.6}{.9}{1}{\mAR}
\mol{Cw}{2.24}{1.96}{109}{64}{\mGsixP}
\mol{Cx}{2.24}{1.96}{713}{66}{\mPRPP}
\mol{Cy}{2.24}{1.96}{1327}{64}{\mAde}
\mol{Cz}{1.725}{1.782}{65}{85}{\mUDPG}
\mol{Dad}{1.725}{1.782}{189}{626}{\mUDPA}
\mol{Dah}{1.725}{1.782}{362}{1193}{\mUDPX}
\mol{Dai}{2.24}{1.96}{53}{707}{\mFsixP}
\mol{Daj}{2.24}{1.96}{507}{709}{\mPPi}
\mol{Dak}{2.24}{1.96}{243}{1334}{\mPi}
\mol{Dal}{2.412}{1.96}{599}{42}{\mFBP}
\mol{Dam}{2.412}{1.96}{93}{411}{\mFsP}
\mol{Dan}{2.412}{1.96}{894}{689}{\mDHAP}
\mol{Dao}{2.412}{1.96}{799}{1230}{\mGAP}
\mol{Dap}{3}{2.24}{124}{294}{\mRuP}
\mol{Daq}{3}{2.24}{772}{236}{\mEP}
\mol{Dar}{3}{2.24}{463}{899}{\mXuP}
\mol{Das}{3}{3}{79}{94}{\mRfP}
\mol{Dav}{2.412}{2.071}{833}{272}{\mAMPp}
\AR{Dav}{112.8}{28}{.98}{1}{\mAR}
\mol{Dau}{2.412}{2.071}{358}{285}{\mAPs}
\mol{Daw}{2.412}{2.071}{126}{865}{\mHSR}
\mol{Dax}{2.412}{2.071}{358}{803}{\mAPa}
\AR{Dax}{233.4}{27.5}{.93}{1}{\mAR}
\mol{Daz}{2.412}{2.071}{544}{1349}{\mAAA}
% connectors
\eD{Ca}{R04732}\eD{Cb}{R04732}\eD{R04732}{Cc}\eD{Cc}{R04857}\eD{Cd}{R04857}\eD{Ce}{R04857}
\eD{R04857}{Cf}\eD{R04857}{Cg}\eD{Cf}{R02141}\eD{R02141}{Ch}\eD{R02141}{Ci}
\draw[edge] (Ch) .. controls (1325,965) and (1430,990) .. (R01768);
\eD{Cj}{R01768}
\draw[edge] (Ck) .. controls (1762,925) and (1698,985) .. (R01768);
\eD{R01768}{Cl}\eD{R01768}{Cm}\eD{R01768}{Co}\eD{Cl}{R01244}\eD{Cn}{R01244}
\draw[edge] (R01244) .. controls (1387,1350) and (1186,1374) .. (Cy);
\draw[edge] (R01244) .. controls (1800,1345) and (1983,1374) .. (Dac);
\eD{Cp}{R00307}
\draw[edge] (Cp) .. controls (505,945) and (535,965) .. (R00016);
\eD{Cq}{R00016}\eD{R00307}{Cs}\eD{R00016}{Ct}\eD{Cr}{R00760}\eD{Cs}{R00760}\eD{Ct}{R00959}
\draw[edge] (Ct) .. controls (725,1278) and (757,1292) .. (R00289);
\eD{Cu}{R00289}\eD{R00760}{Cv}
\draw[edge] (R00760) .. controls (210,1392) and (189,1450) .. (189,1540) .. controls (189,1750) and (190,1950) .. (197,2050) .. controls (201,2120) and (210,2190) .. (Dam);
\eD{R00959}{Cw}
\draw[edge] (R00289) .. controls (1000,1352) and (1140,1380) .. (Cz);
\draw[edge] (R00289) .. controls (785,1390) and (772,1470) .. (763,1560) .. controls (757,1620) and (761,1720) .. (Daj);
\eD{Cw}{R02740}\eD{R02740}{Dai}\eD{Dai}{R02073}\eD{Daj}{R02073}\eD{Cx}{R00190}
\draw[edge] (Cy) .. controls (1060,1585) and (1010,1610) .. (R00190);
\eD{R00190}{Daj}
\draw[edge] (R00190) .. controls (935,1900) and (936,3200) .. (936,3544) .. controls (936,3600) and (985,3675) .. (Dav);
\draw[edge] (Cy) .. controls (1090,1580) and (1060,1700) .. (1059.5,1860) .. controls (1059,2500) and (1059,3000) .. (1059,3425) .. controls (1059,3500) and (980,3580) .. (R00182);
\draw[edge] (Daj) .. controls (766,2000) and (764.5,2400) .. (764.5,3000) .. controls (764.5,3400) and (764.5,3700) .. (764.5,3938) .. controls (752,4050) and (800,4128) .. (R03098);
\eD{Cz}{R00286}\eD{Daa}{R00286}
\draw[edge] (Dab) .. controls (1890,1567) and (1815,1624) .. (R00286);
\draw[edge] (R00286) .. controls (1620,1682) and (1580,1703) .. (Dad);
\eD{R00286}{Dae}
\draw[edge] (R00286) .. controls (1830,1680) and (1890,1735) .. (Daf);
\eD{Dad}{R01384}\eD{R01384}{Dag}\eD{R01384}{Dah}
\eD{R02073}{Dal}\eD{R02073}{Dak}\eD{Dal}{R01070}\eD{R01070}{Dan}
\draw[edge] (R01070) .. controls (448,2450) and (447,2597) .. (Dao);
\eD{Dan}{R01015}\eD{R01015}{Dao}\eD{Dao}{R01067}
\draw[edge] (Dam) .. controls (262,2450) and (300,2570) .. (365,2713) .. controls (400,2775) and (430,2840) .. (R01067);
\eD{R01067}{Dap}\eD{R01067}{Daq}\eD{Dap}{R01529}\eD{R01529}{Dar}\eD{Dar}{R01056}\eD{R01056}{Das}\eD{Das}{R00182}
\eD{R00182}{Dat}
\draw[edge] (R00182) .. controls (1000,3705) and (1060,3723) .. (Dav);
\eD{Dau}{R04863}\eD{Dav}{R04863}
\draw[edge] (R04863) .. controls (930,3955) and (877,3986) .. (Daw);
\eD{R04863}{Dax}\eD{Dax}{R03098}\eD{R03098}{Day}\eD{R03098}{Daz}
\end{tikzpicture}
\end{document}
